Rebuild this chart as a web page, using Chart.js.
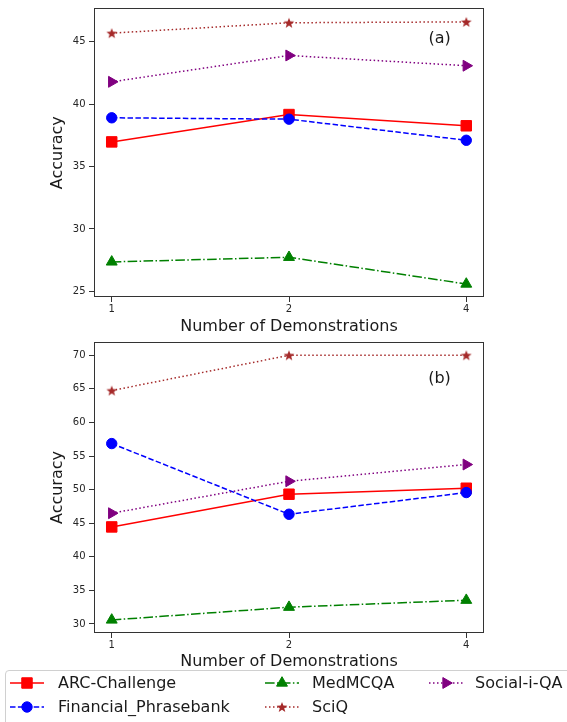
<!DOCTYPE html>
<html><head><meta charset="utf-8">
<script src="https://cdn.jsdelivr.net/npm/chart.js@4.4.1/dist/chart.umd.min.js"></script>
<style>
html,body{margin:0;padding:0;background:#fff;width:567px;height:722px;overflow:hidden;font-family:"DejaVu Sans",sans-serif;}
canvas{position:absolute;left:0;}
#c1{top:0}
#c2{top:330px}
#legendBox{position:absolute;left:5px;top:670px;width:600px;height:80px;border:1px solid #d0d0d0;border-radius:4px;background:rgba(255,255,255,0.85);}
.lh{position:absolute;}
.lt{position:absolute;font-size:16px;line-height:20px;color:#1a1a1a;white-space:nowrap;}
</style></head><body>
<canvas id="c1" width="567" height="340"></canvas>
<canvas id="c2" width="567" height="345"></canvas>
<div id="legendBox"></div>
<script>
// ---------- data ----------
const categories = ['1', '2', '4'];
const seriesNames = ['ARC-Challenge', 'Financial_Phrasebank', 'MedMCQA', 'SciQ', 'Social-i-QA'];

const panelA_ARC    = [36.97, 39.16, 38.26];
const panelA_Fin    = [38.90, 38.79, 37.10];
const panelA_Med    = [27.36, 27.73, 25.59];
const panelA_SciQ   = [45.68, 46.51, 46.58];
const panelA_Social = [41.78, 43.89, 43.07];
const panelA_yTicks = [25, 30, 35, 40, 45];

const panelB_ARC    = [44.45, 49.32, 50.21];
const panelB_Fin    = [56.86, 46.34, 49.57];
const panelB_Med    = [30.60, 32.50, 33.54];
const panelB_SciQ   = [64.75, 70.00, 70.00];
const panelB_Social = [46.49, 51.25, 53.74];
const panelB_yTicks = [30, 35, 40, 45, 50, 55, 60, 65, 70];

// ---------- styles ----------
const FONT = '"DejaVu Sans", sans-serif';
const styles = [
  {color:'#ff0000', dash:[], marker:'rect', r:7.4},
  {color:'#0000ff', dash:[5.5,2.4], marker:'circle', r:5.2},
  {color:'#008000', dash:[9.6,2.4,1.5,2.4], marker:'triangle', r:6.3},
  {color:'#a52a2a', dash:[1.5,2.5], marker:'star', r:5.6},
  {color:'#800080', dash:[1.5,2.5], marker:'rtri', r:6.3}
];

function starImage(color, R){
  const s = Math.ceil(R*2+2);
  const c = document.createElement('canvas');
  c.width = s; c.height = s;
  const g = c.getContext('2d');
  g.fillStyle = color;
  g.beginPath();
  const cx = s/2, cy = s/2 + 0.5, r2 = R*0.42;
  for (let k=0;k<10;k++){
    const a = -Math.PI/2 + k*Math.PI/5;
    const rr = k%2===0 ? R : r2;
    const px = cx + rr*Math.cos(a), py = cy + rr*Math.sin(a);
    k===0 ? g.moveTo(px,py) : g.lineTo(px,py);
  }
  g.closePath(); g.fill();
  return c;
}
const starImg = starImage(styles[3].color, styles[3].r);

function makeDatasets(seriesList){
  return seriesList.map((vals,i)=>{
    const st = styles[i];
    let pointStyle = st.marker, rot = 0;
    if (st.marker === 'star') pointStyle = starImg;
    if (st.marker === 'rtri') { pointStyle = 'triangle'; rot = 90; }
    return {
      label: seriesNames[i],
      data: vals.map((v,k)=>({x:k, y:v})),
      borderColor: st.color,
      backgroundColor: st.color,
      borderWidth: 1.5,
      borderDash: st.dash,
      pointStyle: pointStyle,
      pointRotation: rot,
      pointRadius: st.r,
      pointHoverRadius: st.r,
      pointBackgroundColor: st.color,
      pointBorderColor: st.color,
      pointBorderWidth: 1,
      tension: 0,
      fill: false,
      order: 10 - i,
      clip: false
    };
  });
}

const framePlugin = {
  id: 'frame',
  afterDatasetsDraw(chart, args, opts){
    const {ctx, chartArea:a} = chart;
    ctx.save();
    ctx.strokeStyle = '#333';
    ctx.lineWidth = 1;
    ctx.strokeRect(Math.round(a.left)+0.5, Math.round(a.top)+0.5, Math.round(a.right-a.left)-1, Math.round(a.bottom-a.top)-1);
    ctx.fillStyle = '#1a1a1a';
    ctx.font = '16px ' + FONT;
    ctx.textAlign = 'center';
    ctx.textBaseline = 'middle';
    ctx.fillText(opts.label, a.left + opts.fx*(a.right-a.left), a.top + opts.fy*(a.bottom-a.top));
    ctx.restore();
  }
};

function makeChart(id, seriesList, yTicks, yMin, yMax, canvasH, areaTop, areaBottom, label, fy){
  const tickFont = {family: FONT, size: 10};
  return new Chart(document.getElementById(id), {
    type: 'line',
    data: { datasets: makeDatasets(seriesList) },
    plugins: [framePlugin],
    options: {
      responsive: false,
      animation: false,
      events: [],
      layout: { padding: {left:0, right:83, top:areaTop, bottom:0} },
      plugins: {
        legend: {display:false},
        tooltip: {enabled:false},
        frame: {label: label, fx: 0.886, fy: fy}
      },
      scales: {
        x: {
          type: 'linear',
          min: -0.1, max: 2.1,
          afterBuildTicks: s => { s.ticks = categories.map((c,k)=>({value:k})); },
          afterFit: s => { s.height = canvasH - areaBottom; s.paddingLeft = 0; s.paddingRight = 0; s.paddingTop = 0; s.paddingBottom = 0; },
          grid: {display:true, drawOnChartArea:false, drawTicks:true, tickLength:5, color:'#333', lineWidth:1},
          border: {display:false},
          ticks: {font: tickFont, color:'#262626', padding:1.5, maxRotation:0,
                  callback: (v) => categories[v] !== undefined ? categories[v] : ''},
          title: {display:true, text:'Number of Demonstrations', font:{family:FONT, size:16}, color:'#1a1a1a', padding:{top:0, bottom:3.7}}
        },
        y: {
          type: 'linear',
          min: yMin, max: yMax,
          afterBuildTicks: s => { s.ticks = yTicks.map(v=>({value:v})); },
          afterFit: s => { s.width = 94; s.paddingLeft = 0; s.paddingRight = 0; s.paddingTop = 0; s.paddingBottom = 0; },
          grid: {display:true, drawOnChartArea:false, drawTicks:true, tickLength:5, color:'#333', lineWidth:1},
          border: {display:false},
          ticks: {font: tickFont, color:'#262626', padding:3.5},
          title: {display:true, text:'Accuracy', font:{family:FONT, size:16}, color:'#1a1a1a', padding:{top:48.2, bottom:0}}
        }
      }
    }
  });
}

makeChart('c1', [panelA_ARC, panelA_Fin, panelA_Med, panelA_SciQ, panelA_Social], panelA_yTicks, 24.55, 47.66, 340, 6, 297, '(a)', 0.1065);
makeChart('c2', [panelB_ARC, panelB_Fin, panelB_Med, panelB_SciQ, panelB_Social], panelB_yTicks, 28.66, 71.98, 345, 12, 303, '(b)', 0.125);

// ---------- legend ----------
const legendPos = [
  {hx:10,  tx:58,  y:682.7},
  {hx:10,  tx:58,  y:706.7},
  {hx:265, tx:312, y:682.7},
  {hx:265, tx:312, y:706.7},
  {hx:429, tx:475, y:682.7}
];
function drawMarker(g, st, x, y){
  g.fillStyle = st.color; g.strokeStyle = st.color; g.lineWidth = 1; g.setLineDash([]);
  g.beginPath();
  if (st.marker === 'rect'){ const s = st.r*Math.SQRT1_2; g.rect(x-s, y-s, 2*s, 2*s); }
  else if (st.marker === 'circle'){ g.arc(x, y, st.r, 0, Math.PI*2); }
  else if (st.marker === 'triangle' || st.marker === 'rtri'){
    let a = st.marker === 'rtri' ? Math.PI/2 : 0;
    for (let k=0;k<3;k++){ const px = x + Math.sin(a)*st.r, py = y - Math.cos(a)*st.r; k===0?g.moveTo(px,py):g.lineTo(px,py); a += 2*Math.PI/3; }
    g.closePath();
  }
  else if (st.marker === 'star'){ g.drawImage(starImg, x-starImg.width/2, y-starImg.height/2); return; }
  g.fill(); g.stroke();
}
seriesNames.forEach((name,i)=>{
  const p = legendPos[i], st = styles[i];
  const c = document.createElement('canvas');
  c.width = 34; c.height = 20; c.className = 'lh';
  c.style.left = p.hx + 'px'; c.style.top = (p.y - 10) + 'px';
  document.body.appendChild(c);
  const g = c.getContext('2d');
  g.strokeStyle = st.color; g.lineWidth = 1.5; g.setLineDash(st.dash);
  g.beginPath(); g.moveTo(0, 10); g.lineTo(34, 10); g.stroke();
  drawMarker(g, st, 17, 10);
  const t = document.createElement('div');
  t.className = 'lt'; t.textContent = name;
  t.style.left = p.tx + 'px'; t.style.top = (p.y - 10) + 'px';
  document.body.appendChild(t);
});
</script>
</body></html>
